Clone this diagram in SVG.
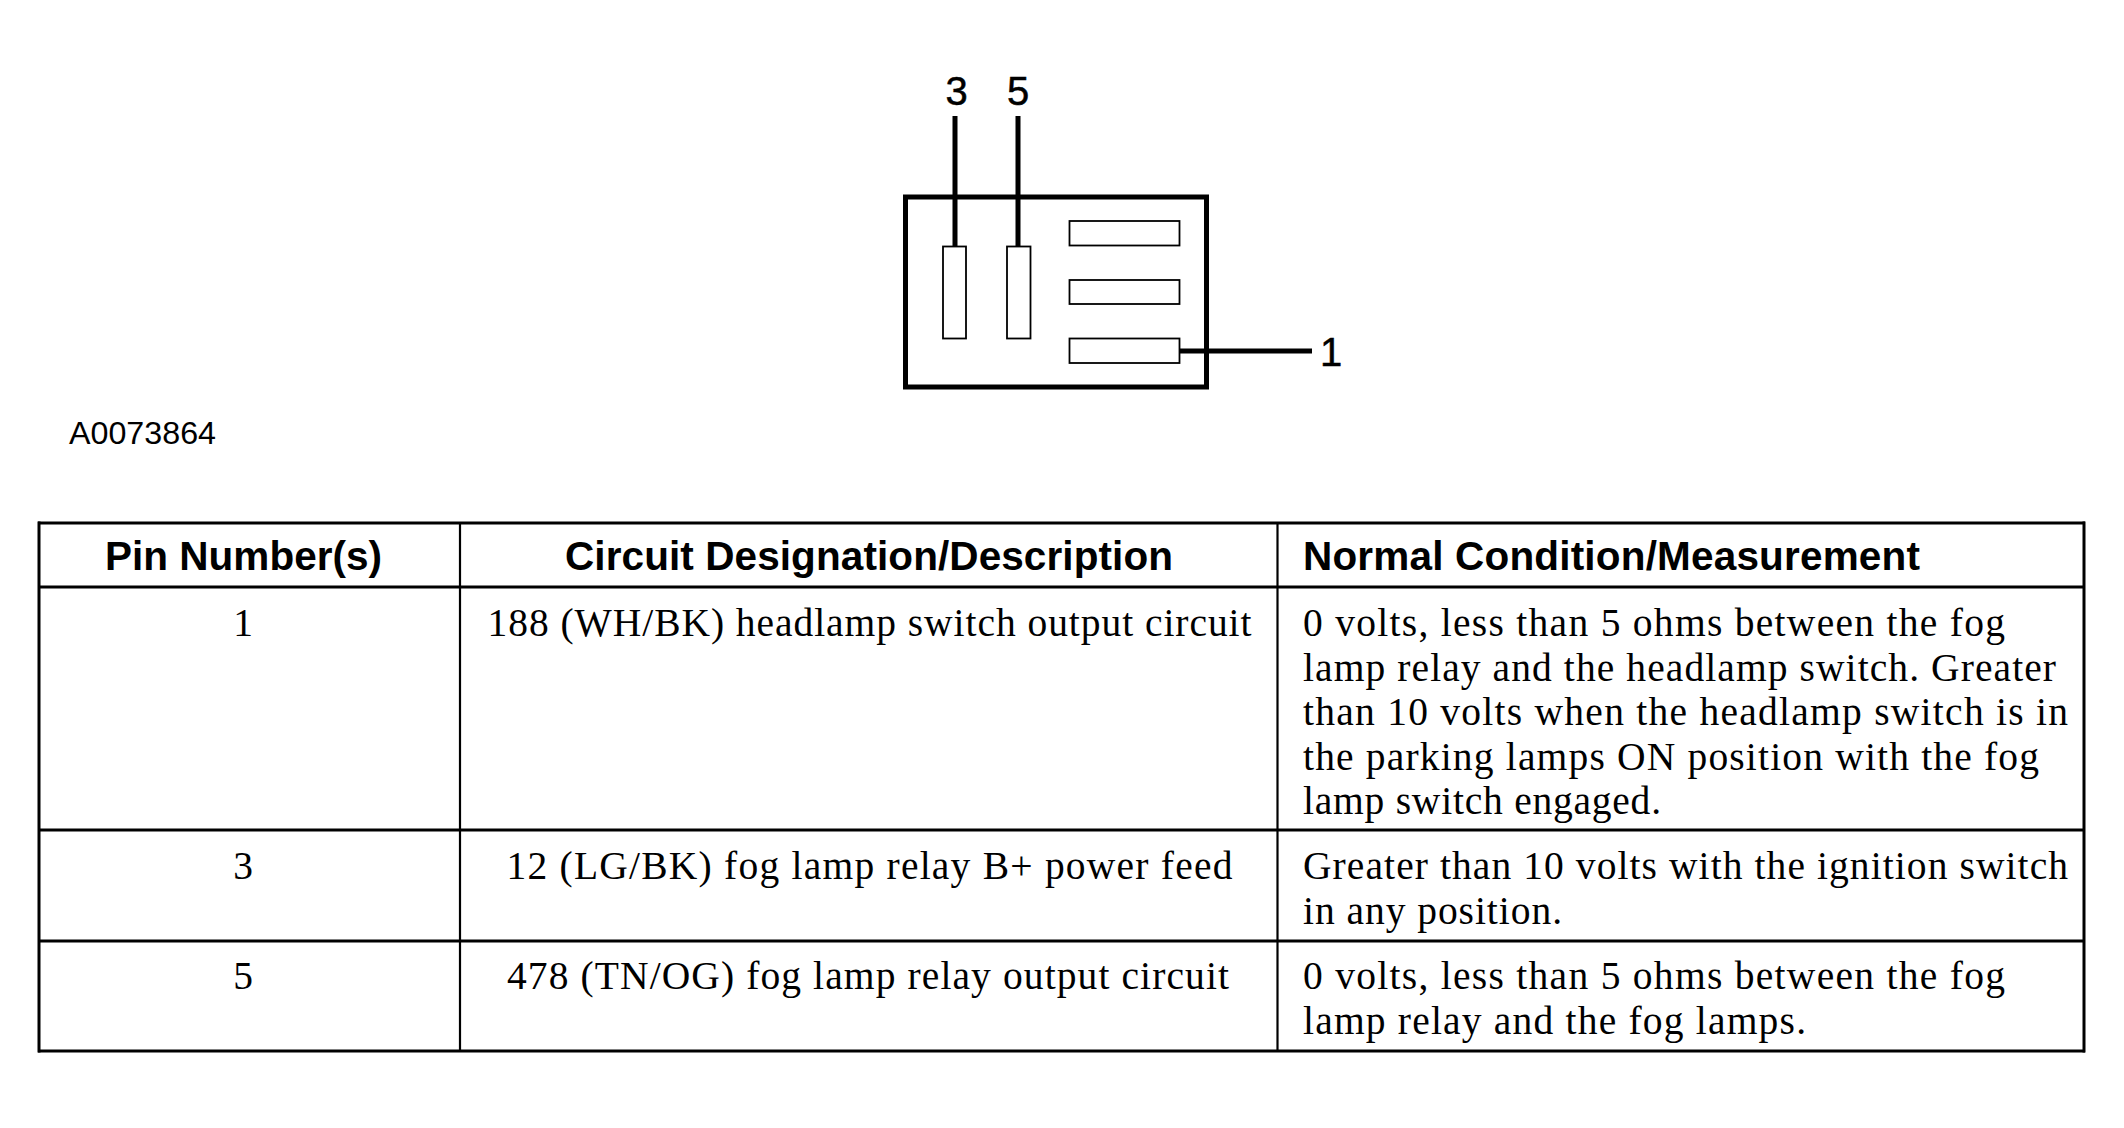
<svg xmlns="http://www.w3.org/2000/svg" width="2124" height="1128" viewBox="0 0 2124 1128">
<style>
.lbl{font-family:"Liberation Sans",Arial,sans-serif;font-size:40px;fill:#000;stroke:#000;stroke-width:0.5}
.code{font-family:"Liberation Sans",Arial,sans-serif;font-size:32px;fill:#000}
.hd{font-family:"Liberation Sans",Arial,sans-serif;font-weight:bold;font-size:40.5px;fill:#000}
.tx{font-family:"Liberation Serif","Times New Roman",serif;font-size:39.5px;fill:#000}
.mid{text-anchor:middle}
.pin{fill:#fff;stroke:#000;stroke-width:1.8}
.lead{stroke:#000;stroke-width:5;fill:none}
.grid{stroke:#000;stroke-width:3;fill:none}
.col{stroke:#000;stroke-width:2.2;fill:none}
</style>
<rect width="2124" height="1128" fill="#fff"/>
<g id="connector">
<rect x="905.5" y="197" width="301" height="190" fill="#fff" stroke="#000" stroke-width="5"/>
<rect id="pin3" class="pin" x="943" y="246.5" width="23" height="92"/>
<rect id="pin5" class="pin" x="1007" y="246.5" width="23.5" height="92"/>
<rect class="pin" x="1069.5" y="221" width="110" height="24.5"/>
<rect class="pin" x="1069.5" y="280" width="110" height="24"/>
<rect id="pin1" class="pin" x="1069.5" y="338.5" width="110" height="24.5"/>
</g>
<g id="connectors">
<line class="lead" x1="955" y1="116" x2="955" y2="246.5"/>
<line class="lead" x1="1018" y1="116" x2="1018" y2="246.5"/>
<line class="lead" x1="1179.5" y1="351" x2="1312" y2="351"/>
</g>
<g id="labels">
<text class="lbl mid" x="956.5" y="105">3</text>
<text class="lbl mid" x="1018" y="105">5</text>
<text class="lbl" x="1320" y="366">1</text>
<text class="code" x="69" y="444" textLength="147" lengthAdjust="spacingAndGlyphs">A0073864</text>
</g>
<g id="table">
<line class="grid" x1="38" y1="523" x2="2085" y2="523"/>
<line class="grid" x1="38" y1="587" x2="2085" y2="587"/>
<line class="grid" x1="38" y1="830" x2="2085" y2="830"/>
<line class="grid" x1="38" y1="941" x2="2085" y2="941"/>
<line class="grid" x1="38" y1="1051" x2="2085" y2="1051"/>
<line class="grid" x1="39" y1="521.5" x2="39" y2="1052.5"/>
<line class="grid" x1="2084" y1="521.5" x2="2084" y2="1052.5"/>
<line class="col" x1="460" y1="523" x2="460" y2="1051"/>
<line class="col" x1="1277.5" y1="523" x2="1277.5" y2="1051"/>
</g>
<g id="header">
<text class="hd mid" x="243.5" y="570" textLength="277">Pin Number(s)</text>
<text class="hd mid" x="869" y="570" textLength="608">Circuit Designation/Description</text>
<text class="hd" x="1303" y="570" textLength="617">Normal Condition/Measurement</text>
</g>
<g id="row1">
<text class="tx mid" x="243" y="636">1</text>
<text class="tx mid" x="869.5" y="636" textLength="764">188 (WH/BK) headlamp switch output circuit</text>
<text class="tx" x="1303" y="636" textLength="702">0 volts, less than 5 ohms between the fog</text>
<text class="tx" x="1303" y="680.5" textLength="753">lamp relay and the headlamp switch. Greater</text>
<text class="tx" x="1303" y="725" textLength="765">than 10 volts when the headlamp switch is in</text>
<text class="tx" x="1303" y="769.5" textLength="736">the parking lamps ON position with the fog</text>
<text class="tx" x="1303" y="814" textLength="358">lamp switch engaged.</text>
</g>
<g id="row3">
<text class="tx mid" x="243" y="879">3</text>
<text class="tx mid" x="869.5" y="879" textLength="726">12 (LG/BK) fog lamp relay B+ power feed</text>
<text class="tx" x="1303" y="879" textLength="765">Greater than 10 volts with the ignition switch</text>
<text class="tx" x="1303" y="923.5" textLength="259">in any position.</text>
</g>
<g id="row5">
<text class="tx mid" x="243" y="989">5</text>
<text class="tx mid" x="868" y="989" textLength="722">478 (TN/OG) fog lamp relay output circuit</text>
<text class="tx" x="1303" y="989" textLength="702">0 volts, less than 5 ohms between the fog</text>
<text class="tx" x="1303" y="1033.5" textLength="503">lamp relay and the fog lamps.</text>
</g>
</svg>
